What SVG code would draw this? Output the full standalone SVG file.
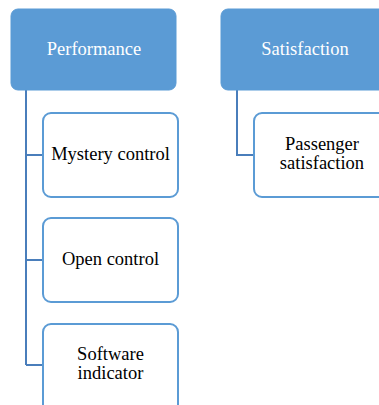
<svg xmlns="http://www.w3.org/2000/svg" width="379" height="405" viewBox="0 0 379 405">
<style>
.head{fill:#5B9BD5;stroke:#5B9BD5;stroke-width:1}
.child{fill:#fff;stroke:#5B9BD5;stroke-width:2}
.ht{fill:#fff;font-family:"Liberation Serif","Times New Roman","DejaVu Serif",serif;font-size:18.5px;text-anchor:middle}
.ct{fill:#000;font-family:"Liberation Serif","Times New Roman","DejaVu Serif",serif;font-size:18.5px;text-anchor:middle}
.conn{fill:none;stroke:#4A7EBB;stroke-width:2}
</style>
<rect width="379" height="405" fill="#fff"/>
<g id="connectors">
<path class="conn" d="M26,90 V365 M26,155 H43 M26,260 H43 M26,365 H43"/>
<path class="conn" d="M237,90 V155 H253"/>
</g>
<g id="performance">
<rect class="head" x="11" y="9" width="165" height="81" rx="7"/>
<text class="ht" x="94" y="54.5">Performance</text>
</g>
<g id="satisfaction">
<rect class="head" x="221" y="9" width="170" height="81" rx="7"/>
<text class="ht" x="305" y="54.5">Satisfaction</text>
</g>
<g id="mystery">
<rect class="child" x="43" y="113" width="135" height="84" rx="8"/>
<text class="ct" x="110.5" y="160">Mystery control</text>
</g>
<g id="open">
<rect class="child" x="43" y="218" width="135" height="84" rx="8"/>
<text class="ct" x="110.5" y="265">Open control</text>
</g>
<g id="software">
<rect class="child" x="43" y="324" width="135" height="90" rx="8"/>
<text class="ct" x="110.5" y="360">Software</text>
<text class="ct" x="110.5" y="379">indicator</text>
</g>
<g id="passenger">
<rect class="child" x="254" y="113" width="140" height="84" rx="8"/>
<text class="ct" x="322" y="150">Passenger</text>
<text class="ct" x="322" y="168.5">satisfaction</text>
</g>
</svg>
